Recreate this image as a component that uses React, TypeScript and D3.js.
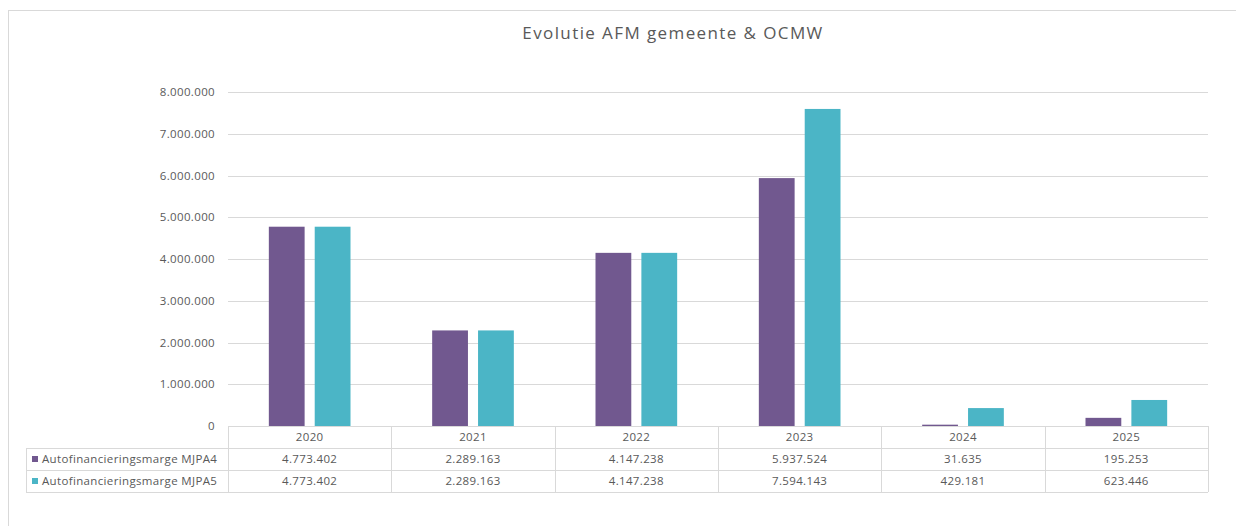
import React from "react";
import * as d3 from "d3";

const years = ["2020", "2021", "2022", "2023", "2024", "2025"];
const seriesNames = ["Autofinancieringsmarge MJPA4", "Autofinancieringsmarge MJPA5"];
const mjpa4 = [4773402, 2289163, 4147238, 5937524, 31635, 195253];
const mjpa5 = [4773402, 2289163, 4147238, 7594143, 429181, 623446];
const yTicks = [0, 1000000, 2000000, 3000000, 4000000, 5000000, 6000000, 7000000, 8000000];
const colors = ["#71588f", "#4bb5c6"];
const title = "Evolutie AFM gemeente & OCMW";

const fmt = (v: number) => {
  const s = Math.round(v).toString();
  return s.replace(/\B(?=(\d{3})+(?!\d))/g, ".");
};

export default function App() {
  const W = 1236, H = 526;
  const left = 228, right = 1208, top = 92, bottom = 426;
  const rowH = 22;
  const tableLeft = 26;
  const font = "'Open Sans', 'Liberation Sans', sans-serif";
  const textColor = "#595959";
  const gridColor = "#d9d9d9";
  const fs = 11.5;
  const ls = 0.35;

  const x0 = d3.scaleBand<string>().domain(years).range([left, right]).paddingInner(0).paddingOuter(0);
  const bw = x0.bandwidth();
  const x1 = d3.scaleBand<string>().domain(seriesNames).range([bw * 0.25, bw * 0.75]).paddingInner(0.22);
  const y = d3.scaleLinear().domain([0, 8000000]).range([bottom, top]);
  const data = [mjpa4, mjpa5];

  return (
    <svg width={W} height={H} style={{ position: "fixed", left: 0, top: 0, background: "#fff" }} fontFamily={font}>
      <rect x={0} y={0} width={W} height={H} fill="#fff" />
      <rect x={8.5} y={10.5} width={W + 10} height={H + 10} fill="none" stroke={gridColor} />
      <text x={673} y={39} textAnchor="middle" fontSize={17} letterSpacing={1.4} fill={textColor}>{title}</text>

      {yTicks.map((t) => (
        <g key={t}>
          {t > 0 && (
            <line x1={left} x2={right} y1={Math.round(y(t)) + 0.5} y2={Math.round(y(t)) + 0.5} stroke={gridColor} />
          )}
          <text x={215} y={y(t)} dy="0.35em" textAnchor="end" fontSize={fs} letterSpacing={ls} fill={textColor}>{fmt(t)}</text>
        </g>
      ))}

      {years.map((yr, i) => (
        <g key={yr} transform={`translate(${x0(yr)},0)`}>
          {seriesNames.map((s, j) => (
            <rect key={s} x={x1(s)} width={x1.bandwidth()} y={y(data[j][i])} height={bottom - y(data[j][i])} fill={colors[j]} />
          ))}
        </g>
      ))}

      {/* table */}
      <line x1={left} x2={right} y1={bottom + 0.5} y2={bottom + 0.5} stroke={gridColor} />
      {[1, 2, 3].map((r) => (
        <line key={r} x1={tableLeft} x2={right} y1={bottom + r * rowH + 0.5} y2={bottom + r * rowH + 0.5} stroke={gridColor} />
      ))}
      <line x1={tableLeft + 0.5} x2={tableLeft + 0.5} y1={bottom + rowH} y2={bottom + 3 * rowH} stroke={gridColor} />
      {years.map((yr) => (
        <line key={yr} x1={Math.round(x0(yr)!) + 0.5} x2={Math.round(x0(yr)!) + 0.5} y1={bottom} y2={bottom + 3 * rowH} stroke={gridColor} />
      ))}
      <line x1={right + 0.5} x2={right + 0.5} y1={bottom} y2={bottom + 3 * rowH} stroke={gridColor} />

      {years.map((yr, i) => (
        <g key={yr}>
          <text x={x0(yr)! + bw / 2} y={bottom + rowH / 2} dy="0.35em" textAnchor="middle" fontSize={fs} letterSpacing={ls} fill={textColor}>{yr}</text>
          {data.map((d, j) => (
            <text key={j} x={x0(yr)! + bw / 2} y={bottom + rowH * (j + 1) + rowH / 2} dy="0.35em" textAnchor="middle" fontSize={fs} letterSpacing={ls} fill={textColor}>{fmt(d[i])}</text>
          ))}
        </g>
      ))}
      {seriesNames.map((s, j) => (
        <g key={s}>
          <rect x={32} y={bottom + rowH * (j + 1) + rowH / 2 - 3} width={6} height={6} fill={colors[j]} />
          <text x={42} y={bottom + rowH * (j + 1) + rowH / 2} dy="0.35em" fontSize={fs} letterSpacing={ls} fill={textColor}>{s}</text>
        </g>
      ))}
    </svg>
  );
}
